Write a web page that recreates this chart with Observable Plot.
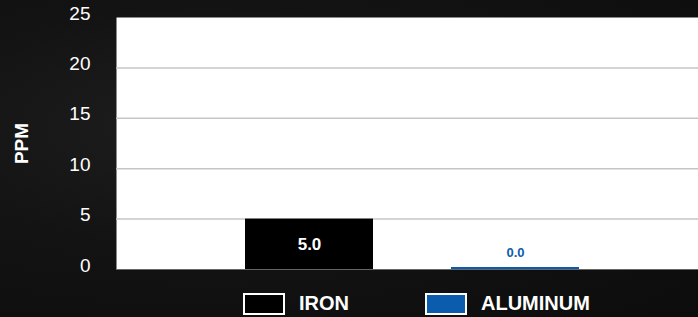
<!DOCTYPE html>
<html>
<head>
<meta charset="utf-8">
<script src="https://cdn.jsdelivr.net/npm/d3@7"></script>
<script src="https://cdn.jsdelivr.net/npm/@observablehq/plot@0.6"></script>
<style>
  html, body { margin: 0; padding: 0; }
  body {
    width: 698px; height: 317px; overflow: hidden;
    background: radial-gradient(ellipse at 30% 40%, #1e1e1e 0%, #131313 45%, #0c0c0c 100%);
    font-family: "Liberation Sans", Arial, Helvetica, sans-serif;
  }
  #chart svg { display: block; }
  #legend {
    display: flex; align-items: center; height: 35px; padding-top: 8px;
    padding-left: 243px; box-sizing: border-box;
    color: #fff; font-weight: bold; font-size: 20px;
  }
  .item { display: flex; align-items: center; }
  .swatch { width: 38px; height: 18px; border: 2px solid #fff; margin-right: 14px; }
</style>
</head>
<body>
<div id="chart"></div>
<div id="legend"></div>
<script>
const categories = ["IRON", "ALUMINUM"];
const values = [5.0, 0.0];
const barColors = ["#000000", "#0b5cad"];
const valueLabelColors = ["#ffffff", "#0b5cad"];
const yTicks = [0, 5, 10, 15, 20, 25];
const gridTicks = [5, 10, 15, 20];
const yLabel = "PPM";

const data = categories.map((c, i) => ({cat: c, value: values[i], color: barColors[i], labelColor: valueLabelColors[i]}));

const chart = Plot.plot({
  width: 698, height: 282,
  marginLeft: 116, marginRight: 0, marginTop: 17, marginBottom: 13,
  style: {background: "transparent", color: "#fff", fontFamily: "'Liberation Sans', Arial, Helvetica, sans-serif"},
  x: {domain: categories, paddingInner: 0.38, paddingOuter: 0.6, align: 0.52, axis: null},
  y: {domain: [0, 25], axis: null},
  color: {type: "identity"},
  marks: [
    Plot.frame({fill: "white", stroke: null}),
    Plot.ruleY(gridTicks, {stroke: "#c6c6c6", strokeWidth: 1.5}),
    Plot.barY(data, {x: "cat", y: "value", fill: "color"}),
    Plot.tickY(data.filter(d => d.value < 0.25), {x: "cat", y: "value", stroke: "color", strokeWidth: 2.5, dy: -1.25}),
    Plot.ruleY([0], {stroke: "#666", strokeWidth: 1}),
    Plot.text(yTicks, {y: d => d, text: d => String(d), frameAnchor: "left", dx: -26, dy: -4, textAnchor: "end", fill: "#fff", fontSize: 19}),
    Plot.text([12.5], {y: d => d, text: () => yLabel, frameAnchor: "left", dx: -95, rotate: -90, textAnchor: "middle", fill: "#fff", fontSize: 19, fontWeight: "bold"}),
    Plot.text(data.filter(d => d.value >= 1), {x: "cat", y: d => d.value / 2, text: d => d.value.toFixed(1), fill: "labelColor", fontSize: 17, fontWeight: "bold"}),
    Plot.text(data.filter(d => d.value < 1), {x: "cat", y: "value", text: d => d.value.toFixed(1), fill: "labelColor", fontSize: 13, fontWeight: "bold", dy: -16.5})
  ]
});
document.getElementById("chart").appendChild(chart);

const legend = document.getElementById("legend");
categories.forEach((c, i) => {
  const item = document.createElement("div");
  item.className = "item";
  if (i > 0) item.style.marginLeft = "76px";
  const sw = document.createElement("div");
  sw.className = "swatch";
  sw.style.background = barColors[i];
  const label = document.createElement("span");
  label.textContent = c;
  item.appendChild(sw); item.appendChild(label);
  legend.appendChild(item);
});
</script>
</body>
</html>
